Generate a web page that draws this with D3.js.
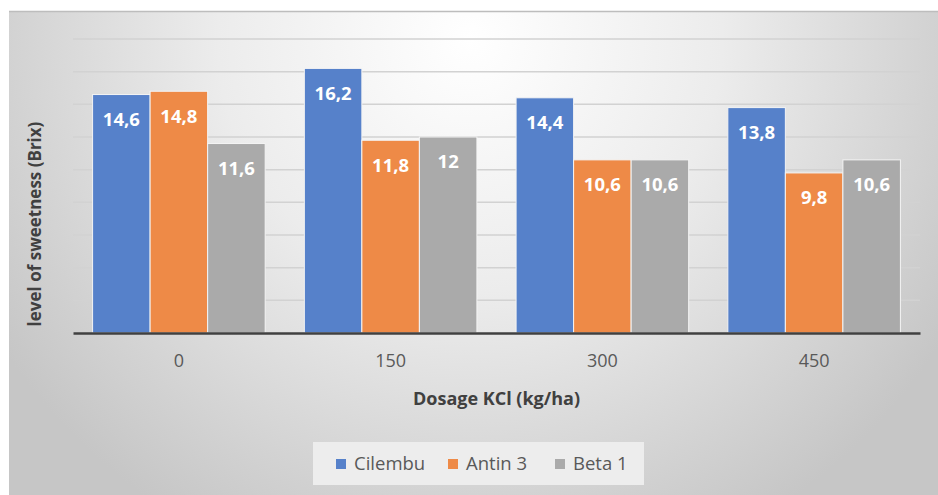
<!DOCTYPE html>
<html>
<head>
<meta charset="utf-8">
<script src="https://cdn.jsdelivr.net/npm/d3@7"></script>
<style>
  body { margin: 0; background: #fff; }
  svg { display: block; font-family: "Open Sans", "Noto Sans", sans-serif; }
</style>
</head>
<body>
<div id="chart"></div>
<script>
// chart data
let dosages = ["0", "150", "300", "450"];
let seriesNames = ["Cilembu", "Antin 3", "Beta 1"];
let cilembu = [14.6, 16.2, 14.4, 13.8];
let antin3 = [14.8, 11.8, 10.6, 9.8];
let beta1 = [11.6, 12, 10.6, 10.6];
let yTicks = [0, 2, 4, 6, 8, 10, 12, 14, 16, 18];

let colors = ["#5681ca", "#ee8a47", "#aaaaaa"];
let seriesValues = [cilembu, antin3, beta1];

let W = 938, H = 495;
let margin = { top: 39, right: 18, bottom: 162, left: 73 };
let width = W - margin.left - margin.right,
    height = H - margin.top - margin.bottom;

let svg = d3.select("#chart").append("svg")
    .attr("width", W)
    .attr("height", H);

// background gradient of the chart frame
let defs = svg.append("defs");
let grad = defs.append("radialGradient")
    .attr("id", "bg")
    .attr("gradientUnits", "userSpaceOnUse")
    .attr("cx", 470).attr("cy", 40)
    .attr("r", 560);
grad.append("stop").attr("offset", "0%").attr("stop-color", "#ffffff");
grad.append("stop").attr("offset", "45%").attr("stop-color", "#ececec");
grad.append("stop").attr("offset", "100%").attr("stop-color", "#c6c6c6");

svg.append("rect")
    .attr("x", 9).attr("y", 11)
    .attr("width", W - 9).attr("height", H - 11)
    .attr("fill", "url(#bg)");
svg.append("line")
    .attr("x1", 9).attr("x2", W)
    .attr("y1", 11.5).attr("y2", 11.5)
    .attr("stroke", "#bdbdbd").attr("stroke-width", 1.5);

let g = svg.append("g")
    .attr("transform", "translate(" + margin.left + "," + margin.top + ")");

// scales
let x0 = d3.scaleBand()
    .domain(dosages)
    .range([0, width])
    .paddingInner(0.185)
    .paddingOuter(0.0925);

let x1 = d3.scaleBand()
    .domain(seriesNames)
    .range([0, x0.bandwidth()]);

let y = d3.scaleLinear()
    .domain([0, 18])
    .range([height, 0]);

// gridlines
g.selectAll(".grid")
    .data(yTicks.slice(1))
    .enter().append("line")
    .attr("class", "grid")
    .attr("x1", 0).attr("x2", width)
    .attr("y1", d => y(d)).attr("y2", d => y(d))
    .attr("stroke", "#d2d2d2")
    .attr("stroke-width", 1.5);

// bars
let groups = g.selectAll(".group")
    .data(dosages)
    .enter().append("g")
    .attr("class", "group")
    .attr("transform", d => "translate(" + x0(d) + ",0)");

groups.selectAll("rect")
    .data((d, i) => seriesNames.map((s, j) => ({ s: s, j: j, v: seriesValues[j][i] })))
    .enter().append("rect")
    .attr("x", d => x1(d.s))
    .attr("y", d => y(d.v))
    .attr("width", x1.bandwidth())
    .attr("height", d => height - y(d.v))
    .attr("fill", d => colors[d.j])
    .attr("stroke", "#f4f4f4")
    .attr("stroke-width", 1);

// data labels
groups.selectAll(".lbl")
    .data((d, i) => seriesNames.map((s, j) => ({ s: s, j: j, v: seriesValues[j][i] })))
    .enter().append("text")
    .attr("class", "lbl")
    .attr("x", d => x1(d.s) + x1.bandwidth() / 2)
    .attr("y", d => y(d.v) + 25)
    .attr("dy", "0.35em")
    .attr("text-anchor", "middle")
    .attr("fill", "#ffffff")
    .style("font-size", "18.5px")
    .style("font-weight", "bold")
    .text(d => String(d.v).replace(".", ","));

// x axis baseline and labels
let xAxis = d3.axisBottom(x0).tickSize(0).tickPadding(21);
let xg = g.append("g")
    .attr("transform", "translate(0," + height + ")")
    .call(xAxis);
xg.select(".domain")
    .attr("stroke", "#404040")
    .attr("stroke-width", 2.5);
xg.selectAll("text")
    .attr("fill", "#595959")
    .style("font-size", "18px")
    .style("font-family", "'Open Sans', sans-serif");

// axis titles
svg.append("text")
    .attr("x", margin.left + width / 2)
    .attr("y", 405)
    .attr("text-anchor", "middle")
    .attr("fill", "#404040")
    .style("font-size", "18px")
    .style("font-weight", "bold")
    .text("Dosage KCl (kg/ha)");

svg.append("text")
    .attr("transform", "translate(41,224) rotate(-90)")
    .attr("text-anchor", "middle")
    .attr("fill", "#404040")
    .style("font-size", "17px")
    .style("font-weight", "bold")
    .text("level of sweetness (Brix)");

// legend
let legend = svg.append("g");
legend.append("rect")
    .attr("x", 313).attr("y", 442)
    .attr("width", 331).attr("height", 43)
    .attr("fill", "#ededed");

let legendX = [336, 448, 555];
let item = legend.selectAll(".item")
    .data(seriesNames)
    .enter().append("g")
    .attr("class", "item")
    .attr("transform", (d, i) => "translate(" + legendX[i] + ",464)");
item.append("rect")
    .attr("x", 0).attr("y", -5)
    .attr("width", 10).attr("height", 10)
    .attr("fill", (d, i) => colors[i]);
item.append("text")
    .attr("x", 18)
    .attr("dy", "0.35em")
    .attr("fill", "#595959")
    .style("font-size", "18.5px")
    .text(d => d);
</script>
</body>
</html>
